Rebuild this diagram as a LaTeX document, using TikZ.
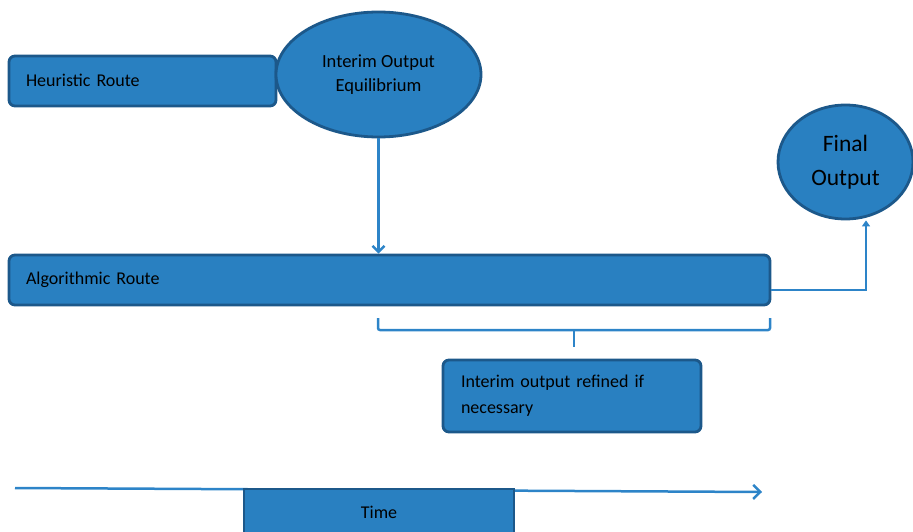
\documentclass[tikz,border=0pt]{standalone}
\usepackage{fontspec}
\setmainfont{Carlito}
\usetikzlibrary{shapes.geometric,arrows.meta}
\definecolor{boxfill}{RGB}{41,128,193}
\definecolor{boxline}{RGB}{28,88,138}
\definecolor{conn}{RGB}{45,132,200}
\tikzset{
  rbox/.style={draw=boxline, fill=boxfill, line width=2.8pt, rounded corners=6pt, align=left, font=\fontsize{18}{26}\selectfont, inner sep=0pt},
  ebox/.style={ellipse, draw=boxline, fill=boxfill, line width=2.8pt, align=center, inner sep=0pt},
  conline/.style={draw=conn, line width=2.5pt},
}
\begin{document}
\begin{tikzpicture}[x=1pt,y=-1pt]
\useasboundingbox (0,0) rectangle (913,532);
% time axis
\coordinate (t0) at (15,488);
\coordinate (t1) at (762,492);
\draw[conline, -{Straight Barb[length=7pt,width=14pt]}] (t0) -- (t1);
\node[rbox, rounded corners=0pt, minimum width=270pt, minimum height=46pt, align=center, font=\fontsize{18}{20}\selectfont] (time) at (379,512) {Time};
% boxes
\node[rbox, minimum width=267pt, minimum height=50pt, text width=233pt] (heur) at (142.5,81) {\raisebox{2pt}{Heuristic Route}};
\node[ebox, minimum width=205pt, minimum height=125pt, font=\fontsize{18.5}{24}\selectfont] (eq) at (378.5,74.5) {Interim Output\\Equilibrium};
\node[rbox, minimum width=761pt, minimum height=50pt, text width=727pt] (algo) at (389.5,280) {\raisebox{2pt}{Algorithmic Route}};
\node[ebox, minimum width=135pt, minimum height=114pt, font=\fontsize{23.5}{34}\selectfont] (final) at (845.5,162) {Final\\Output};
\node[rbox, minimum width=258pt, minimum height=72pt, text width=222pt] (ref) at (572,396) {Interim output refined if\\necessary};
% connectors
\draw[conline, -{Straight Barb[length=6pt,width=12pt]}] (eq.south) -- (eq.south |- algo.north);
\coordinate (bend) at (866,290);
\draw[conline, -{Triangle[length=6pt,width=8pt]}] (algo.east |- bend) -- (bend) -- (bend |- final.south);
% brace
\coordinate (bl) at (378,318);
\coordinate (br) at (770,318);
\coordinate (bm) at (574,347);
\draw[conline, rounded corners=2pt] (bl) -- (378,330) -- (770,330) -- (br);
\draw[conline] (574,330) -- (bm);
\end{tikzpicture}
\end{document}
